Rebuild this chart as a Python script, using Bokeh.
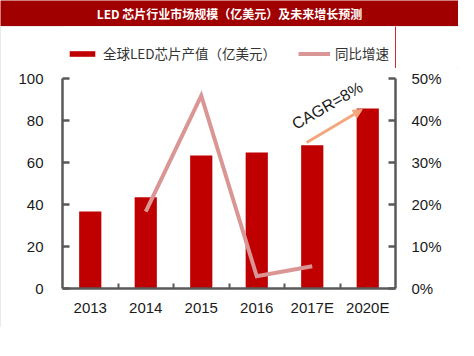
from bokeh.plotting import figure
from bokeh.models import (Range1d, LinearAxis, FixedTicker, PrintfTickFormatter, Legend,
                          LegendItem, Arrow, NormalHead, Label)
from bokeh.layouts import column
from bokeh.core.properties import value
from bokeh.embed import file_html
from bokeh.resources import INLINE

# ---- data ----
years = ["2013", "2014", "2015", "2016", "2017E", "2020E"]
output = [36.7, 43.5, 63.3, 64.8, 68.2, 85.7]          # 全球LED芯片产值（亿美元）
growth_years = ["2014", "2015", "2016", "2017E"]
growth = [18.3, 45.9, 2.9, 5.3]                        # 同比增速 (%)
left_ticks = [0, 20, 40, 60, 80, 100]
right_ticks = [0, 10, 20, 30, 40, 50]
title_text = "LED 芯片行业市场规模（亿美元）及未来增长预测"
bar_label = "全球LED芯片产值（亿美元）"
line_label = "同比增速"
cagr_text = "CAGR=8%"

BAR = "#C00000"
LINE = "#D99694"
ARROW = "#F4A77E"
AXIS = "#595959"
W = 458


def bare(fig):
    fig.grid.visible = False
    fig.outline_line_color = None


# ---- title bar ----
t = figure(width=W, height=26, x_range=(0, 1), y_range=(0, 1), output_backend="svg",
           toolbar_location=None, min_border=0, x_axis_location=None, y_axis_location=None)
bare(t)
t.background_fill_color = "#A00000"
t.border_fill_color = "#A00000"
t.text(x=[0.5], y=[0.5], text=[title_text], text_align="center", text_baseline="middle",
       text_color="white", text_font=value("Noto Sans CJK SC"), text_font_style="bold",
       text_font_size="12px")

xs = list(range(len(years)))
gx = [years.index(y) for y in growth_years]

# ---- legend strip (same series, drawn out of this strip's view; only the legend shows) ----
lf = figure(width=W, height=42, x_range=Range1d(-100, -99), y_range=Range1d(0, 1),
            output_backend="svg", toolbar_location=None, min_border=0,
            x_axis_location=None, y_axis_location=None)
bare(lf)
lf_bar = lf.vbar(x=xs, top=output, width=0.4, fill_color=BAR, line_color=None)
lf_line = lf.line(x=gx, y=growth, line_color=LINE, line_width=4)
legend = Legend(items=[LegendItem(label=bar_label, renderers=[lf_bar]),
                       LegendItem(label=line_label, renderers=[lf_line])],
                orientation="horizontal", location=(4, 5),
                glyph_width=32, glyph_height=7, label_standoff=5, spacing=22,
                label_text_font="Noto Sans CJK SC", label_text_font_size="13.5px",
                label_text_color="#333333", padding=0, margin=0,
                border_line_color=None, background_fill_alpha=0)
lf.add_layout(legend)

# ---- main chart ----
p = figure(width=W, height=259, x_range=Range1d(-0.5, len(years) - 0.5),
           y_range=Range1d(left_ticks[0], left_ticks[-1]), output_backend="svg",
           toolbar_location=None, min_border_left=62, min_border_right=63,
           min_border_top=10, min_border_bottom=39)
p.extra_y_ranges = {"pct": Range1d(right_ticks[0], right_ticks[-1])}
p.xgrid.visible = False
p.ygrid.visible = False
p.outline_line_color = None

p.vbar(x=xs, top=output, width=0.4, fill_color=BAR, line_color=None)
p.line(x=gx, y=growth, y_range_name="pct", line_color=LINE, line_width=4, line_join="miter")

right = LinearAxis(y_range_name="pct", ticker=FixedTicker(ticks=right_ticks),
                   formatter=PrintfTickFormatter(format="%d%%"))
p.add_layout(right, "right")

left = p.yaxis[0]
left.ticker = FixedTicker(ticks=left_ticks)
for ax in (left, right):
    ax.axis_line_color = AXIS
    ax.axis_line_width = 2.5
    ax.major_tick_in = 7
    ax.major_tick_out = 0
    ax.minor_tick_in = 0
    ax.minor_tick_out = 0
    ax.major_tick_line_color = AXIS
    ax.major_tick_line_width = 2.5
    ax.major_label_text_font = "Liberation Sans"
    ax.major_label_text_font_size = "15px"
    ax.major_label_text_color = "#1a1a1a"
left.major_label_standoff = 19
right.major_label_standoff = 16

xa = p.xaxis[0]
xa.ticker = FixedTicker(ticks=xs, minor_ticks=[i + 0.5 for i in xs[:-1]])
xa.major_label_overrides = {i: y for i, y in enumerate(years)}
xa.axis_line_color = AXIS
xa.axis_line_width = 2.5
xa.major_tick_in = 0
xa.major_tick_out = 0
xa.minor_tick_in = 5
xa.minor_tick_out = 0
xa.minor_tick_line_color = AXIS
xa.minor_tick_line_width = 2
xa.major_label_text_font = "Liberation Sans"
xa.major_label_text_font_size = "15px"
xa.major_label_text_color = "#1a1a1a"
xa.major_label_standoff = 10

# CAGR arrow and label
p.add_layout(Arrow(x_start=xs[4] - 0.1, y_start=output[4] + 1.3,
                   x_end=xs[5] - 0.1, y_end=output[5] - 0.5,
                   line_color=ARROW, line_width=3,
                   end=NormalHead(size=9, fill_color=ARROW, line_color=ARROW)))
p.add_layout(Label(x=xs[4] + 0.27, y=output[5] + 1.4, text=cagr_text, angle=30,
                   angle_units="deg", text_align="center", text_baseline="middle",
                   text_font="Liberation Sans", text_font_size="16px", text_color="#1a1a1a"))

panel = column(lf, p, spacing=0,
               styles={"outline": "1px solid #E3E3E3", "outline-offset": "-1px"})
layout = column(t, panel, spacing=0)
open("out.html", "w").write(file_html(layout, INLINE))
